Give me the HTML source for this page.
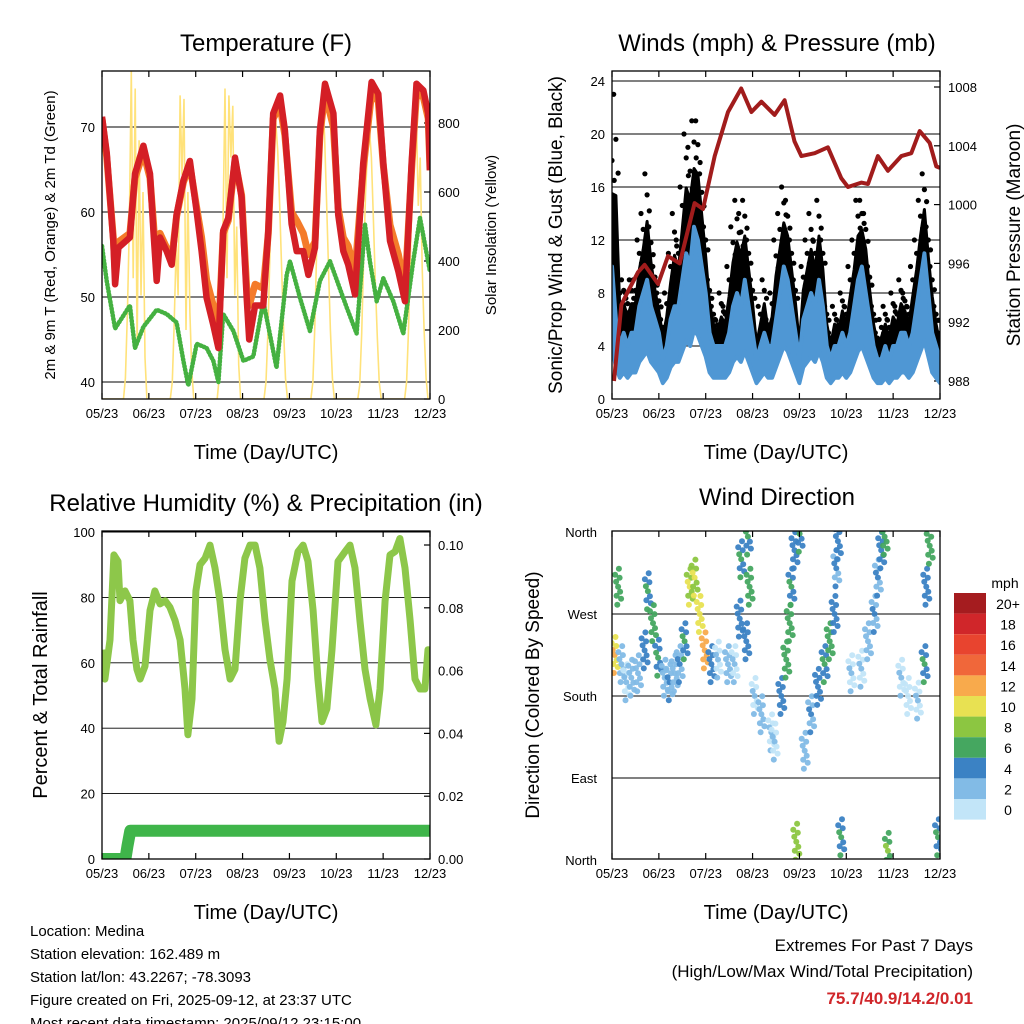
<!DOCTYPE html>
<html><head><meta charset="utf-8"><style>
html,body{margin:0;padding:0;background:#fff}
svg{display:block;font-family:"Liberation Sans",Arial,sans-serif}
</style></head><body>
<svg id="chart" width="1024" height="1024" viewBox="0 0 1024 1024" xmlns="http://www.w3.org/2000/svg"></svg>
<script>
// ---- Panel 1: temperature ----
const dayLabels = ["05/23","06/23","07/23","08/23","09/23","10/23","11/23","12/23"];
const tempTicks = [40,50,60,70];
const solarTicks = [0,200,400,600,800];
const redHours = [0,2.4,5.8,6.7,8.4,14.3,16.9,21.2,24.6,26.3,28,29.7,33.1,35.7,38.2,41.7,45,48.5,51,53.6,57,59.6,62.1,64.7,68.1,71.5,74.1,75.4,78.4,82.6,85.2,87.7,91.2,93.7,97.1,99.7,103.1,105.7,109.1,111.6,114.2,118.5,121,123.6,126.1,129.6,133.8,138.1,141.5,144.1,147.5,151.8,155.2,158.6,161.1,164.6,167.1,168];
const temp2m = [71.2,67,56.6,51.5,55.8,57,64.5,67.8,64.5,58,51.9,57,55.4,53.8,59.7,63.7,66,60,55.4,49.9,46.7,44,57.8,59.3,66.4,61.7,49.9,45,49,49,57.8,71.6,73.7,69.6,58.6,55.4,55.4,52.6,55.8,69.6,75.1,71.6,59.7,55.4,53.8,50.3,65.7,75.3,73.9,65.7,56.6,53,49.5,65.7,75.1,74.3,71.6,64.9];
const temp9m = [71,66.5,57,53,56.5,57.5,64,67,64,59,53,57.5,55.8,54.5,59.5,63.5,65.5,60.5,57,52,49,45.5,57.5,59,66,62,51,49,51.5,51,57.5,71,72.5,69,60,59,57.5,55,56.5,69,74,70,60.5,57,56,53,65,74,73,65.5,58.5,55,51,65,74,73.5,71,64.9];
const dewHours = [0,2.4,6.7,14.3,16.9,21.2,28,33.1,38.2,41.7,44.2,48.5,53.6,57,59.6,62.1,67.3,72.4,77.5,82.6,89.4,94.6,96.3,101.4,106.5,111.6,116.8,125.3,130.4,134.7,137.2,140.7,144.1,149.2,154.3,159.4,162.9,168];
const dewpoint = [56,51.9,46.3,49,44,46.5,48.5,48,47,42.5,39.6,44.5,44,42.5,40,48,46,42.5,43,49.5,41.7,52.6,54.2,49.9,46,51.9,54.2,48.8,45.7,58.5,54.2,49.5,52.2,49.5,45.7,54.2,59.3,53];
const solar = [0,0,0,0,0,0,0,0,0,0,0,
 0,60,250,500,950,350,900,150,750,300,600,120,0,
 0,0,0,0,0,0,0,0,0,0,0,
 0,50,220,450,300,880,650,870,200,600,250,80,0,
 0,0,0,0,0,0,0,0,0,0,0,
 0,60,250,500,900,350,880,700,850,300,500,100,0,
 0,0,0,0,0,0,0,0,0,0,0,
 0,50,200,420,620,760,800,720,560,380,200,60,0,
 0,0,0,0,0,0,0,0,0,0,0,
 0,50,210,450,680,830,870,760,580,380,200,60,0,
 0,0,0,0,0,0,0,0,0,0,0,
 0,40,190,400,600,720,780,700,520,340,180,50,0,
 0,0,0,0,0,0,0,0,0,0,0,
 0,50,200,430,650,800,820,560,700,380,200,60,0,
 0];
// ---- Panel 2: winds & pressure ----
const windTicks = [0,4,8,12,16,20,24];
const pressTicks = [988,992,996,1000,1004,1008];
const windHours2 = [0,2,4,6,8,10,12,14,16,18,20,22,24,26,28,30,32,34,36,38,40,42,44,46,48,50,52,54,56,58,60,62,64,66,68,70,72,74,76,78,80,82,84,86,88,90,92,94,96,98,100,102,104,106,108,110,112,114,116,118,120,122,124,126,128,130,132,134,136,138,140,142,144,146,148,150,152,154,156,158,160,162,164,166,168];
const windSpeed = [10,6,4,5,4,5,5,7,8,9,7,6,5,3,4,6,7,7,9,11,10,13,12,10,8,5,4,4,4,4,5,7,8,7,9,7,5,3,4,5,4,4,6,8,10,9,7,5,3,6,7,8,7,9,7,4,3,4,4,5,4,5,7,9,10,8,6,4,3,3,4,3,4,4,5,5,4,5,7,9,11,8,5,4,3];
const windGust = [20,23,9,9,8,9,9,12,14,17,13,10,8,6,8,11,14,12,16,20,19,21,21,17,13,9,7,6,8,7,10,13,15,14,15,12,9,5,7,9,6,8,12,14,16,15,12,9,5,10,12,14,12,15,12,7,5,7,6,8,7,10,12,15,15,14,10,7,5,6,7,6,8,7,9,8,7,10,12,15,17,13,10,7,5];
const pressHours = [1,4.8,8.2,13.3,16.7,23.6,28.7,34.7,42.3,46.6,52.6,59.4,66.2,71.4,76.5,83.3,88.4,93.5,97,103.8,110.6,117.4,120.9,127.7,131.1,136.2,141.3,148.2,153.3,157.6,162.7,166.1,168];
const pressure = [988,993.2,994.1,995.4,995.9,994.6,996.5,996,1000.1,999.7,1003.3,1006.3,1007.9,1006.3,1007,1006.1,1007.1,1004.3,1003.3,1003.5,1003.9,1001.8,1001.2,1001.5,1001.4,1003.3,1002.3,1003.3,1003.5,1005,1004.2,1002.6,1002.5];
// ---- Panel 3: RH & precip ----
const rhTicks = [0,20,40,60,80,100];
const precipTicks = [0,0.02,0.04,0.06,0.08,0.10];
const rhHours = [0,1.5,4.1,6.1,8.2,9.2,11.8,14.3,15.9,17.9,19.5,22,24.6,27.1,29.7,32.3,34.8,37.4,40,42.5,44,46.1,48.1,50.2,52.8,55.3,57.9,60.4,63,65.6,68.1,70.7,73.2,75.8,78.4,80.9,83.5,86,88.6,90.7,92.7,94.8,97.3,100.4,103,105.5,108.1,110.6,112.7,115.2,117.8,120.9,124.5,127,129.6,132.1,134.7,137.3,140.3,142.4,145,147.5,150.1,152.6,155.2,157.8,160.3,162.9,165.4,167,168];
const rhValues = [64,55,67,93,91,79,82,79,67,58,55,59,76,82,78,79,77,73,67,52,38,49,82,90,92,96,89,79,64,55,58,79,92,96,96,89,73,61,52,36,42,55,85,94,96,91,76,55,42,46,64,91,94,96,89,73,58,49,41,52,79,93,94,98,89,73,55,52,52,64,58];
const precipHours = [0,12,13,14.5,168];
const precipValues = [0,0,0.004,0.009,0.009];
// ---- Panel 4: wind direction ----
const dirTicks = ["North","East","South","West","North"];
const dirHours = [1.4,3.1,4.8,7.3,9.9,13.3,16.7,18.4,21,23.6,27,29.5,32.1,34.7,37.2,39.8,42.3,44.9,47.5,50.9,54.3,59.4,62.8,65.4,66.2,69.6,70.5,68.8,73.1,76.5,81.6,83.3,86.7,89.3,91,91.9,93.5,96.1,94.4,98.7,102,105.5,108.9,111.5,114,114.9,115.7,117.4,122.6,127.7,131.1,134.5,136.2,137.9,139.6,141.3,148.2,151.6,156.7,160.1,161,162.7,167];
const dirValues = [225,300,215,195,200,205,230,295,260,222,200,195,205,215,240,300,310,270,230,215,220,215,215,265,330,355,300,240,180,160,140,130,180,220,260,300,340,358,20,120,160,190,215,240,270,320,350,25,205,210,240,270,310,340,355,10,200,180,175,215,300,345,25];
const dirSpeeds = [12,7,3,2,3,3,5,6,7,6,3,4,3,4,6,10,10,11,13,5,2,3,2,5,6,6,7,5,2,3,2,2,5,7,7,6,5,6,9,3,4,5,6,7,5,4,5,6,2,2,3,4,4,5,7,8,2,1,2,6,5,7,6];
const speedLabels = ["20+","18","16","14","12","10","8","6","4","2","0"];
const speedColors = ["#a51c1f","#d0262a","#e8442f","#f0673a","#f8aa4c","#e8e152","#8cc641","#45a760","#3b82c4","#82bbe6","#c2e5f8"];

const NS = "http://www.w3.org/2000/svg";
const svg = document.getElementById('chart');
function mk(tag, attrs, parent){ const e=document.createElementNS(NS,tag); for(const k in attrs) e.setAttribute(k, attrs[k]); (parent||svg).appendChild(e); return e; }
function txt(str, x, y, size, anchor, parent, extra){ const t=mk('text', Object.assign({x:x,y:y,'font-size':size,'text-anchor':anchor||'middle',fill:'#000'}, extra||{}), parent); t.textContent=str; return t; }
function pts(hs, vs, fx, fy){ return hs.map((h,i)=>fx(h).toFixed(1)+','+fy(vs[i]).toFixed(1)).join(' '); }

// axis functions
const xA = h => 102 + h/168*328;
const xB = h => 612 + h/168*328;
const yTemp = t => 382 - (t-40)*8.5;
const ySol = s => 399 - s*69/200;
const yWind = w => 399 - w*13.25;
const yPress = p => 381 - (p-988)*14.7;
const yRH = r => 859 - r*3.27;
const yPrec = p => 859 - p*3140;
const yDir = d => 860 - d*82/90;

const defs = mk('defs',{});
[['c1',102,71],['c2',612,71],['c3',102,531],['c4',612,531]].forEach(c=>{
  const cp = mk('clipPath',{id:c[0]},defs); mk('rect',{x:c[1],y:c[2],width:328,height:328},cp);
});

function frame(x0,y0,name){
  const r = mk('rect',{x:x0,y:y0,width:328,height:328,fill:'none',stroke:'#000','stroke-width':1.3});
  
  
}
function xAxis(x0,y0,fx,name){
  const g = mk('g',{});
  
  
  dayLabels.forEach((lab,i)=>{
    const x = fx(i*24);
    mk('line',{x1:x,y1:y0+328,x2:x,y2:y0+322,stroke:'#000','stroke-width':1.2},g);
    mk('line',{x1:x,y1:y0,x2:x,y2:y0+6,stroke:'#000','stroke-width':1.2},g);
    const t = txt(lab, x, y0+347, 13, 'middle', g);
    
    
  });
  const tt = txt('Time (Day/UTC)', x0+164, y0+388, 20, 'middle');
  
  
}
function hGrid(x0, ticks, fy, labels, side, name){
  const g = mk('g',{});
  
  
  ticks.forEach((v,i)=>{
    const y = fy(v);
    if (side==='left'){
      mk('line',{x1:x0,y1:y,x2:x0+328,y2:y,stroke:'#000','stroke-width':0.9},g);
      const t = txt(labels[i], x0-7, y+5, 13, 'end', g);
      
      
    } else {
      mk('line',{x1:x0+328,y1:y,x2:x0+322,y2:y,stroke:'#000','stroke-width':1.2},g);
      const t = txt(labels[i], x0+336, y+5, 13, 'start', g);
      
      
    }
  });
}
function rotTitle(str, x, y, size, name){
  const t = txt(str, x, y, size, 'middle', svg, {transform:'rotate(-90 '+x+' '+y+')'});
  
  
}
function title(str,x,y,name){
  const t = txt(str,x,y,24,'middle');
  
  
}

// ===== Panel 1 =====
title('Temperature (F)',266,51,'temperature-title');
hGrid(102, tempTicks, yTemp, tempTicks.map(String), 'left', 'temp-gridlines');
hGrid(102, solarTicks, ySol, solarTicks.map(String), 'right', 'solar-axis');
const g1 = mk('g',{'clip-path':'url(#c1)'});


const solLine = mk('polyline',{points:pts(solar.map((v,i)=>i), solar, xA, ySol),fill:'none',stroke:'#ffe27a','stroke-width':1.6},g1);


const dewLine = mk('polyline',{points:pts(dewHours, dewpoint, xA, yTemp),fill:'none',stroke:'#45b141','stroke-width':4.5,'stroke-linejoin':'round','stroke-dasharray':'1 2.5','stroke-linecap':'round'},g1);


const dewLine2 = mk('polyline',{points:pts(dewHours, dewpoint, xA, yTemp),fill:'none',stroke:'#45b141','stroke-width':2.5,'stroke-linejoin':'round'},g1);


const oLine = mk('polyline',{points:pts(redHours, temp9m, xA, yTemp),fill:'none',stroke:'#f47b2a','stroke-width':7,'stroke-linejoin':'round'},g1);


const rLine = mk('polyline',{points:pts(redHours, temp2m, xA, yTemp),fill:'none',stroke:'#d41f26','stroke-width':6.5,'stroke-linejoin':'round'},g1);


frame(102,71,'temperature-frame');
xAxis(102,71,xA,'temperature-x-axis');
rotTitle('2m & 9m T (Red, Orange) & 2m Td (Green)',55,235,15,'temperature-y-title');
rotTitle('Solar Insolation (Yellow)',496,235,15,'solar-y-title');

// ===== Panel 2 =====
title('Winds (mph) & Pressure (mb)',777,51,'winds-title');
hGrid(612, windTicks, yWind, windTicks.map(String), 'left', 'wind-gridlines');
hGrid(612, pressTicks, yPress, pressTicks.map(String), 'right', 'pressure-axis');
const g2 = mk('g',{'clip-path':'url(#c2)'});


// black gust band between wind and mid-gust
const gustBandPts = windHours2.map((h,i)=>xB(h).toFixed(1)+','+yWind(windSpeed[i]+(windGust[i]-windSpeed[i])*0.55).toFixed(1))
  .concat(windHours2.slice().reverse().map((h,j)=>{ const i=windHours2.length-1-j; return xB(h).toFixed(1)+','+yWind(windSpeed[i]).toFixed(1); })).join(' ');
const gustBand = mk('polygon',{points:gustBandPts,fill:'#000',stroke:'#000','stroke-width':3,'stroke-linejoin':'round'},g2);


windHours2.forEach((h,i)=>{
  const w = windSpeed[i], gu = windGust[i];
  [gu, w+(gu-w)*0.8, w+(gu-w)*0.65].forEach((v,k)=>{
    const c = mk('circle',{cx:(xB(h)+(k-1)*2.2).toFixed(1),cy:yWind(v).toFixed(1),r:2.6,fill:'#000'},g2);
    
    
  });
});
// blue wind band between lull (fraction of wind) and wind
const windBandPts = windHours2.map((h,i)=>xB(h).toFixed(1)+','+yWind(windSpeed[i]).toFixed(1))
  .concat(windHours2.slice().reverse().map((h,j)=>{ const i=windHours2.length-1-j; return xB(h).toFixed(1)+','+yWind(windSpeed[i]*0.4).toFixed(1); })).join(' ');
const wBand = mk('polygon',{points:windBandPts,fill:'#4f97d4',stroke:'#4f97d4','stroke-width':4,'stroke-linejoin':'round'},g2);


const pLine = mk('polyline',{points:pts(pressHours, pressure, xB, yPress),fill:'none',stroke:'#a11c1c','stroke-width':4,'stroke-linejoin':'round'},g2);


frame(612,71,'winds-frame');
xAxis(612,71,xB,'winds-x-axis');
rotTitle('Sonic/Prop Wind & Gust (Blue, Black)',562,235,19,'wind-y-title');
rotTitle('Station Pressure (Maroon)',1020,235,19,'pressure-y-title');

// ===== Panel 3 =====
title('Relative Humidity (%) & Precipitation (in)',266,511,'humidity-title');
hGrid(102, rhTicks.slice(1,5), yRH, rhTicks.slice(1,5).map(String), 'left', 'rh-gridlines');
hGrid(102, [0,100], yRH, ['0','100'], 'left', 'rh-end-ticks');
hGrid(102, precipTicks, yPrec, precipTicks.map(v=>v.toFixed(2)), 'right', 'precip-axis');
const g3 = mk('g',{'clip-path':'url(#c3)'});


const prLine = mk('polyline',{points:pts(precipHours, precipValues, xA, yPrec),fill:'none',stroke:'#3fb54a','stroke-width':12,'stroke-linejoin':'round','stroke-linecap':'round'},g3);


const rhLine = mk('polyline',{points:pts(rhHours, rhValues, xA, yRH),fill:'none',stroke:'#8dc74a','stroke-width':7,'stroke-linejoin':'round'},g3);


frame(102,531,'humidity-frame');
xAxis(102,531,xA,'humidity-x-axis');
rotTitle('Percent & Total Rainfall',47,695,20,'humidity-y-title');

// ===== Panel 4 =====
title('Wind Direction',777,505,'wind-direction-title');
const dg = mk('g',{});


dirTicks.forEach((lab,i)=>{
  const y = yDir(i*90);
  if (i>0 && i<4) mk('line',{x1:612,y1:y,x2:940,y2:y,stroke:'#000','stroke-width':0.9},dg);
  const t = txt(lab, 597, y+5, 13, 'end', dg);
  
  
});
const g4 = mk('g',{'clip-path':'url(#c4)'});


function speedColor(s){ const idx = Math.min(10, Math.max(0, 10 - Math.floor(s/2))); return speedColors[idx]; }
const jit = [[0,0],[-1.5,9],[1.5,-9],[-0.8,18],[0.8,-18],[2,5],[-2,-5],[3,12],[-3,-12]];
dirHours.forEach((h,i)=>{
  jit.forEach((j,k)=>{
    const c = mk('circle',{cx:(xB(h)+j[0]).toFixed(1),cy:(yDir(dirValues[i])+j[1]).toFixed(1),r:3,fill:speedColor(dirSpeeds[i]+(k%3===0?0:-1)),opacity:0.95},g4);
    
    
  });
});
frame(612,531,'direction-frame');
xAxis(612,531,xB,'direction-x-axis');
rotTitle('Direction (Colored By Speed)',539,695,19,'direction-y-title');

// colorbar
const cb = mk('g',{});


const mphT = txt('mph',1005,588,14,'middle',cb);


speedLabels.forEach((lab,i)=>{
  const y = 593 + i*20.6;
  const r = mk('rect',{x:954,y:y,width:32,height:20.6,fill:speedColors[i]},cb);
  
  
  const t = txt(lab, 1008, y+16, 14, 'middle', cb);
  
  
});

// footer
const info = ["Location: Medina","Station elevation: 162.489 m","Station lat/lon: 43.2267; -78.3093","Figure created on Fri, 2025-09-12, at 23:37 UTC","Most recent data timestamp: 2025/09/12 23:15:00"];
info.forEach((s,i)=>{
  const t = txt(s, 30, 936 + i*23, 15, 'start');
  
  
});
const e1 = txt('Extremes For Past 7 Days', 973, 951, 17, 'end');


const e2 = txt('(High/Low/Max Wind/Total Precipitation)', 973, 977, 17, 'end');


const e3 = txt('75.7/40.9/14.2/0.01', 973, 1004, 17, 'end', svg, {fill:'#d0262a','font-weight':'bold'});


</script>
</body></html>
